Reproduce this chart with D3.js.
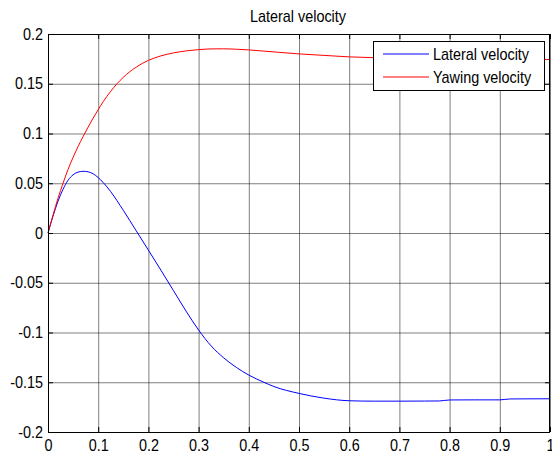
<!DOCTYPE html>
<html>
<head>
<meta charset="utf-8">
<script src="https://cdn.jsdelivr.net/npm/d3@7"></script>
<style>
  body { margin: 0; background: #fff; }
  text { font-family: "Liberation Sans", Arial, sans-serif; font-size: 16px; fill: #000; }
</style>
</head>
<body>
<script>
// time axis (s)
var time = [0, 0.01, 0.02, 0.03, 0.04, 0.05, 0.06, 0.07, 0.08, 0.09, 0.1, 0.11, 0.125,
  0.15, 0.175, 0.2, 0.225, 0.25, 0.275, 0.3, 0.325, 0.35, 0.375, 0.4, 0.43, 0.45,
  0.5, 0.55, 0.6, 0.65, 0.7, 0.75, 0.78, 0.8, 0.85, 0.9, 0.92, 0.95, 1.0];

// lateral velocity (blue)
var lateral = [0, 0.017, 0.032, 0.044, 0.053, 0.0585, 0.0612, 0.062, 0.0615, 0.0595, 0.0557, 0.0507, 0.0415,
  0.0228, 0.0028, -0.0172, -0.0374, -0.058, -0.0785, -0.0975, -0.1135, -0.1255, -0.135, -0.1428, -0.150, -0.1543,
  -0.1612, -0.1660, -0.1686, -0.1690, -0.1690, -0.1689, -0.1688, -0.1678, -0.1677, -0.1677, -0.1668, -0.1667, -0.1666];

// yawing velocity (red)
var yawing = [0, 0.018, 0.035, 0.050, 0.064, 0.076, 0.087, 0.097, 0.1065, 0.1155, 0.124, 0.132, 0.1425,
  0.1565, 0.1665, 0.1735, 0.178, 0.181, 0.183, 0.1843, 0.1850, 0.1851, 0.1847, 0.1840, 0.1828, 0.1820,
  0.1800, 0.1785, 0.1770, 0.1762, 0.1757, 0.1752, 0.1750, 0.1750, 0.1748, 0.1746, 0.1745, 0.1745, 0.1744];

// ticks
var xTicks = [0, 0.1, 0.2, 0.3, 0.4, 0.5, 0.6, 0.7, 0.8, 0.9, 1];
var xTickLabels = ["0", "0.1", "0.2", "0.3", "0.4", "0.5", "0.6", "0.7", "0.8", "0.9", "1"];
var yTicks = [-0.2, -0.15, -0.1, -0.05, 0, 0.05, 0.1, 0.15, 0.2];
var yTickLabels = ["-0.2", "-0.15", "-0.1", "-0.05", "0", "0.05", "0.1", "0.15", "0.2"];

var seriesNames = ["Lateral velocity", "Yawing velocity"];
var seriesColors = ["#0000ff", "#ff0000"];
var title = "Lateral velocity";

var width = 552, height = 454;
var plot = {left: 48, right: 550, top: 34, bottom: 432};

var svg = d3.select("body").append("svg")
  .attr("width", width)
  .attr("height", height);

var x = d3.scaleLinear().domain([0, 1]).range([plot.left, plot.right]);
var y = d3.scaleLinear().domain([-0.2, 0.2]).range([plot.bottom, plot.top]);

// 网格
svg.append("g")
  .attr("transform", "translate(0," + plot.bottom + ")")
  .call(d3.axisBottom(x).tickValues(xTicks).tickSize(-(plot.bottom - plot.top)).tickFormat(""))
  .call(function(g) {
    g.select(".domain").remove();
    g.selectAll("line").attr("stroke", "#000").attr("stroke-opacity", 0.5);
  });
svg.append("g")
  .attr("transform", "translate(" + plot.left + ",0)")
  .call(d3.axisLeft(y).tickValues(yTicks).tickSize(-(plot.right - plot.left)).tickFormat(""))
  .call(function(g) {
    g.select(".domain").remove();
    g.selectAll("line").attr("stroke", "#000").attr("stroke-opacity", 0.5);
  });

// 曲线
var line = function(vals) {
  return d3.line()
    .x(function(d, i) { return x(time[i]); })
    .y(function(d) { return y(d); })
    .curve(d3.curveMonotoneX)(vals);
};
[lateral, yawing].forEach(function(vals, k) {
  svg.append("path")
    .attr("d", line(vals))
    .attr("fill", "none")
    .attr("stroke", seriesColors[k])
    .attr("stroke-width", 1);
});

// 坐标轴（刻度向内）
svg.append("g")
  .attr("transform", "translate(0," + plot.bottom + ")")
  .call(d3.axisBottom(x).tickValues(xTicks).tickSizeInner(-5).tickSizeOuter(0).tickPadding(8)
    .tickFormat(function(d, i) { return xTickLabels[i]; }))
  .call(function(g) {
    g.select(".domain").remove();
    g.selectAll("text").attr("font-size", null).attr("font-family", null)
      .attr("transform", "scale(0.9,1)");
  });
svg.append("g")
  .attr("transform", "translate(" + plot.left + ",0)")
  .call(d3.axisLeft(y).tickValues(yTicks).tickSizeInner(-5).tickSizeOuter(0).tickPadding(5.5)
    .tickFormat(function(d, i) { return yTickLabels[i]; }))
  .call(function(g) {
    g.select(".domain").remove();
    g.selectAll("text").attr("font-size", null).attr("font-family", null)
      .attr("transform", "scale(0.9,1)");
  });
svg.append("g")
  .attr("transform", "translate(0," + plot.top + ")")
  .call(d3.axisTop(x).tickValues(xTicks).tickSizeInner(-5).tickSizeOuter(0).tickFormat(""))
  .call(function(g) { g.select(".domain").remove(); });
svg.append("g")
  .attr("transform", "translate(" + plot.right + ",0)")
  .call(d3.axisRight(y).tickValues(yTicks).tickSizeInner(-5).tickSizeOuter(0).tickFormat(""))
  .call(function(g) { g.select(".domain").remove(); });

svg.append("rect")
  .attr("x", plot.left + 0.5)
  .attr("y", plot.top + 0.5)
  .attr("width", plot.right - plot.left - 1)
  .attr("height", plot.bottom - plot.top)
  .attr("fill", "none")
  .attr("stroke", "#000")
  .attr("stroke-width", 1);

// 标题
svg.append("text")
  .attr("transform", "translate(" + ((plot.left + plot.right) / 2 - 1) + ",22) scale(0.9,1)")
  .attr("text-anchor", "middle")
  .text(title);

// 图例
var legend = svg.append("g").attr("transform", "translate(373,41)");
legend.append("rect")
  .attr("x", 0.5).attr("y", 0.5)
  .attr("width", 171).attr("height", 49)
  .attr("fill", "#fff")
  .attr("stroke", "#000");
seriesNames.forEach(function(name, i) {
  var ly = 13 + i * 23;
  legend.append("line")
    .attr("x1", 10).attr("x2", 56)
    .attr("y1", ly).attr("y2", ly)
    .attr("stroke", seriesColors[i]);
  legend.append("text")
    .attr("transform", "translate(60," + (ly + 6) + ") scale(0.9,1)")
    .text(name);
});
</script>
</body>
</html>
